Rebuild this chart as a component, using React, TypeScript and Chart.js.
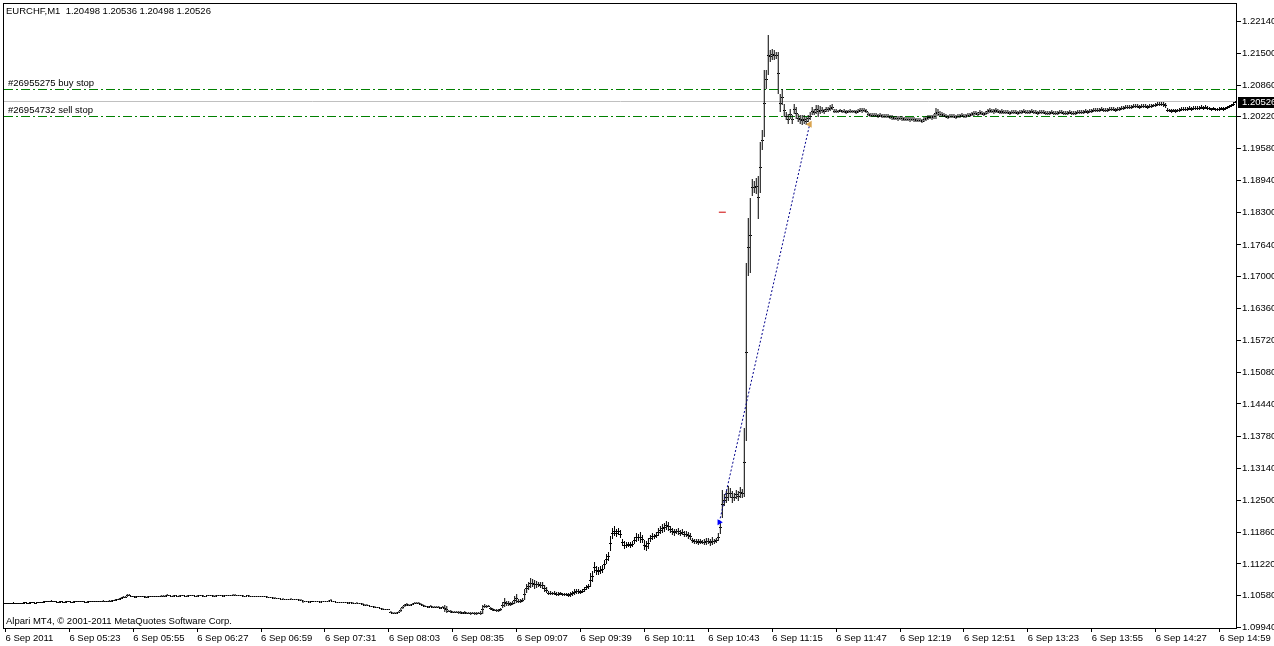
import React, { useEffect, useRef } from 'react';
import { Chart, registerables } from 'chart.js';

Chart.register(...registerables);

// ---------- data ----------
const SYMBOL = 'EURCHF,M1';
const LAST_BAR_OHLC = [1.20498, 1.20536, 1.20498, 1.20526];
const COPYRIGHT = 'Alpari MT4, \u00A9 2001-2011 MetaQuotes Software Corp.';

// prices are stored in pips (0.0001) above 1.1000, one entry per M1 bar
const PRICE_BASE = 1.1;
const PIP = 0.0001;

const LOW_PIPS = [
  // 0-18
  41,42,41,41,42,42,41,41,42,42,43,42,42,43,43,42,43,43,44,
  // 19-25
  44,45,45,46,46,45,45,
  // 26-52
  44,44,45,44,44,45,45,44,44,45,45,46,45,45,44,44,45,45,46,46,45,45,46,46,45,46,46,
  // 53-62
  46,47,48,49,50,52,53,54,56,57,
  // 63-78
  55,55,54,55,55,56,55,54,54,55,55,55,56,55,55,56,
  // 79-82
  56,56,57,57,
  // 83-112
  56,56,57,56,56,57,57,56,56,57,57,57,56,56,57,57,56,56,57,57,57,56,56,57,57,57,56,57,57,57,
  // 113-117
  57,58,58,58,57,
  // 118-131
  57,56,56,57,56,56,56,55,56,56,55,55,55,54,
  // 132-137
  53,53,52,52,52,51,
  // 138-149
  50,50,49,49,50,50,49,49,49,48,48,43,
  // 150-165
  45,45,44,45,45,46,45,45,44,45,45,46,46,47,46,45,
  // 166-178
  44,43,43,44,43,43,42,43,42,42,42,41,41,
  // 179-192
  40,38,38,37,35,35,34,34,33,31,30,30,29,29,
  // 193-201
  24,22,21,21,23,26,31,35,38,
  // 202-209
  37,38,40,41,42,41,40,38,
  // 210-221
  36,35,34,35,34,33,34,33,32,33,25,24,
  // 222-238
  25,24,23,24,23,22,22,21,22,21,21,20,21,20,20,21,20,
  // 239-248
  21,34,34,35,30,28,27,26,26,27,
  // 249-260
  33,36,38,38,37,40,42,44,44,43,45,49,
  // 261-271
  64,70,73,76,72,74,75,73,72,66,63,
  // 272-282
  60,59,60,59,58,58,59,58,57,57,56,
  // 283-292
  55,57,60,61,62,62,63,66,70,72,
  // 293-303
  76,86,103,100,99,102,104,112,122,128,148,
  // 304-314
  172,178,176,180,175,158,153,154,157,155,156,
  // 315-326
  162,166,168,164,165,150,147,152,166,170,172,174,
  // 327-343
  178,182,185,186,190,188,184,180,178,182,181,178,180,176,176,172,170,
  // 344-356
  164,163,162,161,163,162,161,160,163,158,160,163,165,
  // 357-369
  168,183,215,238,244,248,254,244,248,252,248,254,254,
  // 370-414
  256,370,701,707,862,868,866,816,868,956,
  982,1078,1106,1133,1137,1137,1139,1068,1032,1046,
  1022,1016,1008,1018,1008,1028,1018,1012,1008,1006,
  1008,1006,1012,1016,1026,1026,1028,1022,1028,1030,
  1028,1032,1032,1034,1036,
  // 415-431
  1030,1029,1030,1031,1029,1030,1028,1029,1030,1030,1029,1028,1030,1031,1030,1031,1029,
  // 432-443
  1024,1022,1021,1022,1021,1020,1021,1020,1019,1020,1019,1018,
  // 444-460
  1016,1015,1016,1014,1015,1014,1013,1014,1013,1012,1013,1012,1011,1012,1011,1010,1012,
  // 461-470
  1014,1016,1017,1016,1018,1017,1024,1022,1022,1021,
  // 471-483
  1019,1018,1019,1020,1019,1018,1019,1020,1021,1019,1020,1021,1022,
  // 484-499
  1023,1024,1025,1024,1026,1025,1024,1025,1028,1030,1029,1028,1030,1029,1027,1028,
  // 500-543
  1027,1028,1027,1026,1027,1028,1027,1026,1027,1028,
  1029,1028,1027,1028,1029,1028,1027,1026,1027,1028,
  1027,1026,1025,1026,1027,1026,1025,1026,1027,1028,
  1026,1025,1026,1027,1026,1025,1026,1027,1028,1027,
  1028,1029,1028,1029,
  // 544-559
  1030,1031,1032,1031,1032,1033,1032,1031,1032,1033,1034,1033,1032,1033,1034,1035,
  // 560-574
  1036,1037,1038,1037,1038,1039,1040,1039,1038,1039,1040,1039,1038,1039,1040,
  // 575-587
  1041,1042,1043,1044,1043,1042,1040,1032,1031,1030,1031,1030,1031,
  // 588-602
  1032,1033,1034,1033,1034,1035,1034,1035,1036,1035,1036,1037,1036,1037,1036,
  // 603-616
  1035,1034,1035,1034,1033,1034,1035,1034,1035,1037,1039,1041,1044,1049.8,
];

const HIGH_PIPS = [
  // 0-18
  44,44,43,44,45,44,43,44,44,45,45,44,45,46,45,44,45,46,46,
  // 19-25
  47,47,48,48,50,48,47,
  // 26-52
  46,47,47,46,47,47,48,46,47,47,48,48,47,47,46,47,47,48,48,48,47,48,48,49,48,48,49,
  // 53-62
  49,50,51,52,54,55,57,58,61,61,
  // 63-78
  58,57,57,58,57,58,58,57,57,57,58,58,58,57,58,59,
  // 79-82
  59,59,61,59,
  // 83-112
  58,59,59,58,59,59,59,58,59,59,60,59,58,59,59,60,59,58,59,59,60,59,59,59,60,60,59,59,60,60,
  // 113-117
  60,61,61,60,60,
  // 118-131
  59,59,58,59,59,58,58,58,58,58,58,57,57,57,
  // 132-137
  56,55,55,55,54,54,
  // 138-149
  52,53,52,52,52,53,52,52,51,51,51,49,
  // 150-165
  47,48,47,47,48,48,48,47,47,47,48,48,49,51,48,48,
  // 166-178
  46,46,46,46,45,46,45,45,45,44,45,44,44,
  // 179-192
  43,42,41,40,38,37,37,36,36,34,33,32,32,31,
  // 193-201
  27,26,25,25,27,33,38,42,44,
  // 202-209
  42,42,43,45,45,45,44,42,
  // 210-221
  40,38,38,39,38,37,37,37,36,37,39,37,
  // 222-238
  29,29,28,28,28,27,27,26,27,26,26,26,26,25,26,26,27,
  // 239-248
  40,41,40,40,36,33,32,32,31,33,
  // 249-260
  45,53,48,47,46,48,58,61,52,51,53,72,
  // 261-271
  82,86,93,91,89,88,86,85,86,80,76,
  // 272-282
  68,67,66,67,66,65,65,64,64,64,63,
  // 283-292
  65,68,71,71,72,70,72,76,79,81,
  // 293-303
  104,108,125,118,116,117,119,130,142,146,178,
  // 304-314
  194,199,192,195,190,172,168,166,167,166,168,
  // 315-326
  176,184,182,186,180,170,168,174,180,184,183,186,
  // 327-343
  194,198,202,205,208,206,198,194,192,193,195,191,192,189,188,186,184,
  // 344-356
  174,172,173,172,173,171,172,174,175,172,176,172,175,
  // 357-369
  185,208,270,262,268,278,274,268,264,270,268,276,272,
  // 370-414
  396,727,818,858,896,892,898,902,972,996,
  1117,1117,1187,1157,1159,1157,1153,1153,1068,1078,
  1048,1032,1028,1038,1026,1048,1042,1028,1026,1026,
  1026,1022,1026,1032,1042,1038,1046,1046,1044,1042,
  1038,1042,1042,1046,1048,
  // 415-431
  1037,1038,1036,1037,1036,1038,1035,1036,1037,1036,1035,1036,1037,1039,1040,1039,1037,
  // 432-443
  1032,1030,1029,1030,1029,1028,1029,1028,1027,1028,1027,1026,
  // 444-460
  1025,1024,1024,1023,1024,1023,1022,1022,1021,1021,1022,1021,1020,1020,1019,1018,1021,
  // 461-470
  1024,1025,1026,1025,1027,1040,1038,1034,1032,1030,
  // 471-483
  1027,1026,1027,1028,1027,1026,1027,1028,1029,1027,1028,1029,1030,
  // 484-499
  1032,1033,1034,1032,1035,1033,1032,1033,1038,1039,1038,1037,1040,1038,1036,1037,
  // 500-543
  1035,1036,1035,1034,1035,1036,1035,1034,1035,1036,
  1037,1036,1035,1036,1037,1036,1035,1034,1035,1036,
  1035,1034,1033,1034,1035,1034,1033,1034,1035,1036,
  1034,1033,1034,1035,1034,1033,1034,1035,1036,1035,
  1036,1037,1036,1037,
  // 544-559
  1038,1039,1040,1039,1040,1041,1040,1039,1040,1041,1042,1041,1040,1041,1042,1043,
  // 560-574
  1044,1045,1046,1045,1046,1047,1048,1047,1046,1047,1048,1047,1046,1047,1048,
  // 575-587
  1048,1050,1051,1052,1052,1051,1049,1040,1038,1037,1038,1037,1038,
  // 588-602
  1040,1041,1042,1041,1042,1043,1042,1043,1044,1043,1044,1045,1044,1045,1044,
  // 603-616
  1041,1040,1041,1040,1040,1041,1042,1041,1042,1044,1046,1048,1051,1053.6,
];

// time axis: bar index of every label, and its text
const TIME_TICK_BARS = [0, 32, 64, 96, 128, 160, 192, 224, 256, 288, 320, 352, 384, 416, 448, 480, 512, 544, 576, 608];
const TIME_TICK_LABELS = [
  '6 Sep 2011', '6 Sep 05:23', '6 Sep 05:55', '6 Sep 06:27', '6 Sep 06:59', '6 Sep 07:31', '6 Sep 08:03',
  '6 Sep 08:35', '6 Sep 09:07', '6 Sep 09:39', '6 Sep 10:11', '6 Sep 10:43', '6 Sep 11:15', '6 Sep 11:47',
  '6 Sep 12:19', '6 Sep 12:51', '6 Sep 13:23', '6 Sep 13:55', '6 Sep 14:27', '6 Sep 14:59',
];

// price axis labels
const PRICE_TICK_LABELS = [
  '1.22140', '1.21500', '1.20860', '1.20220', '1.19580', '1.18940', '1.18300', '1.17640', '1.17000', '1.16360',
  '1.15720', '1.15080', '1.14440', '1.13780', '1.13140', '1.12500', '1.11860', '1.11220', '1.10580', '1.09940',
];
const Y_MIN = 1.0993;
const Y_MAX = 1.22491;
const X_MIN = -0.75;
const X_MAX = 616.75;

// pending orders and the executed trade
const ORDER_LABELS = ['#26955275 buy stop', '#26954732 sell stop'];
const ORDER_PRICES = [1.2077, 1.2023];
const TRADE_BARS = [357.5, 402.75];
const TRADE_PRICES = [1.1206, 1.2007];
const STOP_MARK_BARS = [357.25, 360.75];
const STOP_MARK_PRICE = 1.183;

// ---------- drawing ----------
const FONT = '"Liberation Sans", Arial, sans-serif';
const FONT_SIZE = 9.5;
const BAR_DATASET = 2;

const crisp = (v: number) => Math.round(v - 0.5) + 0.5;

const mt4Plugin = {
  id: 'mt4Overlay',
  beforeDatasetsDraw(chart: any) {
    const { ctx, chartArea: a, scales } = chart;
    const y = scales.y;
    // snap bar ends (computed by the value scale) to whole pixels, like MT4's bars
    const meta = chart.getDatasetMeta(BAR_DATASET);
    meta.data.forEach((el: any) => {
      let top = Math.round(Math.min(el.y, el.base));
      let bottom = Math.round(Math.max(el.y, el.base));
      if (bottom - top < 1) bottom = top + 1;
      el.y = top;
      el.base = bottom;
      el.height = bottom - top;
    });
    ctx.save();
    ctx.lineWidth = 1;
    // bid line
    const by = crisp(y.getPixelForValue(LAST_BAR_OHLC[3]));
    ctx.strokeStyle = '#c0c0c0';
    ctx.beginPath();
    ctx.moveTo(a.left, by);
    ctx.lineTo(a.right, by);
    ctx.stroke();
    // pending order lines
    ctx.strokeStyle = '#008000';
    ctx.setLineDash([9, 3, 2, 3]);
    ORDER_PRICES.forEach((p) => {
      const py = crisp(y.getPixelForValue(p));
      ctx.beginPath();
      ctx.moveTo(a.left, py);
      ctx.lineTo(a.right, py);
      ctx.stroke();
    });
    ctx.setLineDash([]);
    ctx.fillStyle = '#000';
    ctx.font = `${FONT_SIZE}px ${FONT}`;
    ctx.textBaseline = 'alphabetic';
    ctx.textAlign = 'left';
    ORDER_PRICES.forEach((p, i) => {
      const py = y.getPixelForValue(p);
      ctx.fillText(ORDER_LABELS[i], 8, Math.round(py) - 3);
    });
    ctx.restore();
  },
  afterDatasetsDraw(chart: any) {
    // MT4-style side ticks on every bar so that adjacent bars join up
    const { ctx, chartArea: a } = chart;
    const meta = chart.getDatasetMeta(BAR_DATASET);
    ctx.save();
    ctx.beginPath();
    ctx.rect(a.left, a.top, a.right - a.left, a.bottom - a.top);
    ctx.clip();
    ctx.fillStyle = '#000';
    meta.data.forEach((el: any) => {
      const mid = Math.floor((el.y + el.base) / 2);
      const left = Math.round(el.x - 0.5);
      ctx.fillRect(left - 1, mid, 1, 1);
      ctx.fillRect(left + 1, mid, 1, 1);
    });
    ctx.restore();
  },
  afterDraw(chart: any) {
    const { ctx, chartArea: a, scales } = chart;
    const y = scales.y;
    ctx.save();
    // frame
    ctx.strokeStyle = '#000';
    ctx.lineWidth = 1;
    ctx.strokeRect(a.left - 0.5, a.top - 0.5, a.right - a.left, a.bottom - a.top + 1);
    // header & copyright
    ctx.fillStyle = '#000';
    ctx.font = `${FONT_SIZE}px ${FONT}`;
    ctx.textAlign = 'left';
    ctx.textBaseline = 'alphabetic';
    const header = `${SYMBOL}  ${LAST_BAR_OHLC.map((v) => v.toFixed(5)).join(' ')}`;
    ctx.fillText(header, 6, 14);
    ctx.fillText(COPYRIGHT, 6, 624);
    // bid price box
    const by = Math.round(y.getPixelForValue(LAST_BAR_OHLC[3]));
    ctx.fillStyle = '#000';
    ctx.fillRect(a.right + 1, by - 5, chart.width - a.right - 1, 11);
    ctx.fillStyle = '#fff';
    ctx.textBaseline = 'middle';
    ctx.fillText(LAST_BAR_OHLC[3].toFixed(5), a.right + 5, by + 0.5);
    ctx.restore();
  },
};

export default function App() {
  const ref = useRef<HTMLCanvasElement | null>(null);

  useEffect(() => {
    const canvas = ref.current;
    if (!canvas) return;
    const n = Math.min(LOW_PIPS.length, HIGH_PIPS.length);
    const bars = [] as any[];
    for (let i = 0; i < n; i++) {
      bars.push({ x: i, y: [PRICE_BASE + LOW_PIPS[i] * PIP, PRICE_BASE + HIGH_PIPS[i] * PIP] });
    }
    const tickFont = { family: FONT, size: FONT_SIZE };
    const chart = new Chart(canvas, {
      type: 'bar',
      data: {
        datasets: [
          {
            type: 'line',
            data: TRADE_BARS.map((b, i) => ({ x: b, y: TRADE_PRICES[i] })),
            borderColor: '#00008b',
            borderWidth: 1,
            borderDash: [2, 2],
            pointStyle: 'triangle',
            rotation: [90, -90],
            pointRadius: [3.5, 4],
            pointBackgroundColor: ['#0000ff', '#d9a44f'],
            pointBorderColor: ['#0000ff', '#d9a44f'],
            pointBorderWidth: 0,
            order: 0,
          } as any,
          {
            type: 'line',
            data: STOP_MARK_BARS.map((b) => ({ x: b, y: STOP_MARK_PRICE })),
            borderColor: '#cc0000',
            borderWidth: 1,
            pointRadius: 0,
            order: 1,
          } as any,
          {
            type: 'bar',
            data: bars,
            backgroundColor: '#000000',
            borderWidth: 0,
            barThickness: 1,
            inflateAmount: 0,
            order: 2,
          } as any,
        ],
      },
      options: {
        responsive: false,
        animation: false,
        devicePixelRatio: 1,
        events: [],
        layout: { padding: { left: 2, top: 2, right: 0, bottom: 0 } },
        plugins: {
          legend: { display: false },
          tooltip: { enabled: false },
          title: { display: false },
        },
        scales: {
          x: {
            type: 'linear',
            min: X_MIN,
            max: X_MAX,
            offset: false,
            afterBuildTicks: (scale: any) => {
              scale.ticks = TIME_TICK_BARS.map((v) => ({ value: v }));
            },
            afterFit: (scale: any) => {
              scale.height = 18;
              scale.paddingLeft = 0;
              scale.paddingRight = 0;
            },
            ticks: {
              callback: (_v: any, i: number) => TIME_TICK_LABELS[i],
              align: 'start',
              autoSkip: false,
              minRotation: 0,
              maxRotation: 0,
              padding: 1,
              color: '#000',
              font: tickFont,
            },
            grid: { drawOnChartArea: false, drawTicks: true, tickLength: 4, color: '#000', offset: false },
            border: { display: false },
          },
          y: {
            type: 'linear',
            position: 'right',
            min: Y_MIN,
            max: Y_MAX,
            afterBuildTicks: (scale: any) => {
              scale.ticks = PRICE_TICK_LABELS.map((s) => ({ value: Number(s) }));
            },
            afterFit: (scale: any) => {
              scale.width = 37;
              scale.paddingTop = 0;
              scale.paddingBottom = 0;
            },
            ticks: {
              callback: (_v: any, i: number) => PRICE_TICK_LABELS[i],
              autoSkip: false,
              padding: 1,
              color: '#000',
              font: tickFont,
            },
            grid: { drawOnChartArea: false, drawTicks: true, tickLength: 4, color: '#000' },
            border: { display: false },
          },
        },
      } as any,
      plugins: [mt4Plugin],
    });
    return () => chart.destroy();
  }, []);

  return (
    <div style={{ position: 'fixed', left: 0, top: 0, width: 1274, height: 646, background: '#fff' }}>
      <canvas ref={ref} width={1274} height={646} style={{ display: 'block', width: 1274, height: 646 }} />
    </div>
  );
}
